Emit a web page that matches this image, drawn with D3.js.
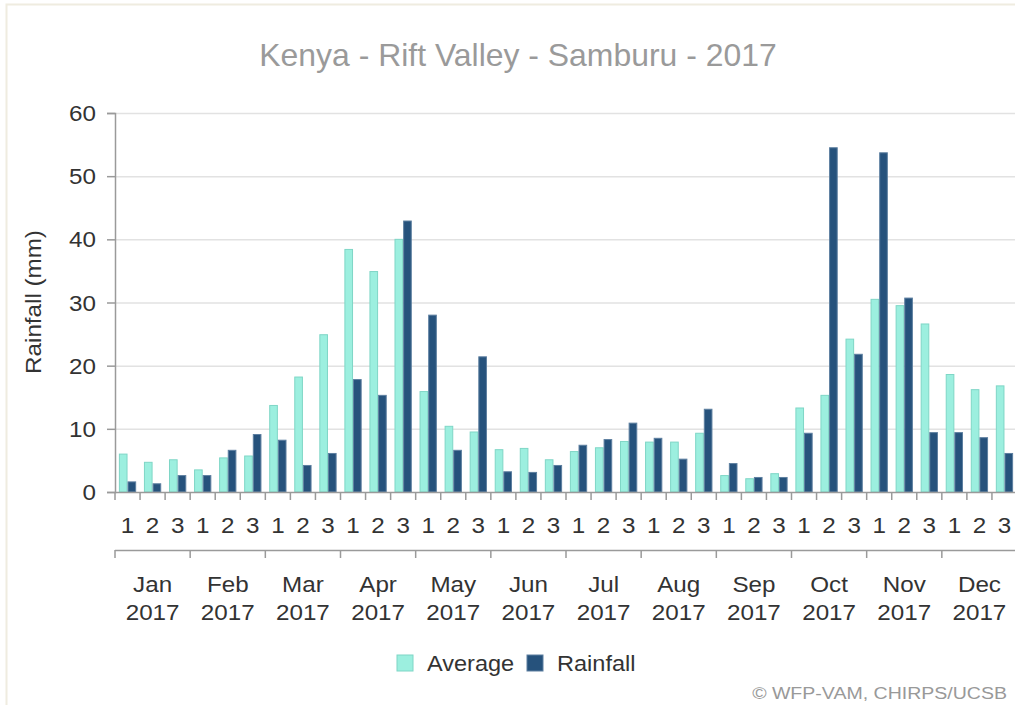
<!DOCTYPE html>
<html>
<head>
<meta charset="utf-8">
<script src="https://cdn.jsdelivr.net/npm/d3@7"></script>
<style>
  body { margin: 0; background: #fff; }
  svg { display: block; font-family: "Liberation Sans", Arial, sans-serif; }
</style>
</head>
<body>
<div id="chart"></div>
<script>
(function() {

  // months and dekads
  var months = ["Jan", "Feb", "Mar", "Apr", "May", "Jun", "Jul", "Aug", "Sep", "Oct", "Nov", "Dec"]
  var dekads = ["1", "2", "3"]
  var year = "2017"

  // values per dekad (mm)
  var average = [6.0, 4.7, 5.1, 3.5, 5.4, 5.7, 13.7, 18.2, 24.9, 38.4, 34.9, 40.0,
                 15.9, 10.4, 9.5, 6.7, 6.9, 5.1, 6.4, 7.0, 8.0, 7.9, 7.9, 9.3,
                 2.6, 2.1, 2.9, 13.3, 15.3, 24.2, 30.5, 29.5, 26.6, 18.6, 16.2, 16.8]
  var rainfall = [1.6, 1.3, 2.6, 2.6, 6.6, 9.1, 8.2, 4.2, 6.1, 17.8, 15.3, 42.9,
                  28.0, 6.6, 21.4, 3.2, 3.1, 4.2, 7.4, 8.3, 10.9, 8.5, 5.2, 13.1,
                  4.5, 2.3, 2.3, 9.3, 54.5, 21.8, 53.7, 30.7, 9.4, 9.4, 8.6, 6.1]
  var yTicks = [0, 10, 20, 30, 40, 50, 60]
  var seriesNames = ["Average", "Rainfall"]
  var colors = {Average: "#9cefdf", Rainfall: "#26527c"}
  var strokes = {Average: "#7fd6c6", Rainfall: "#5d7fa0"}

  var width = 1015, height = 705
  var left = 115, right = 1017, top = 113, bottom = 492
  var sx = 1.1   // text in the picture is a little wide

  var cats = []
  months.forEach(function(m) {
    dekads.forEach(function(d) { cats.push(m + "-" + d) })
  })
  var rows = cats.map(function(c, i) {
    return {cat: c, dek: c.split("-")[1], Average: average[i], Rainfall: rainfall[i]}
  })

  var svg = d3.select("#chart").append("svg")
    .attr("width", width)
    .attr("height", height)

  // put a text at x,y, stretched a bit sideways
  function label(g, tx, ty, str, size, anchor, fill, stretch, rot) {
    return g.append("text")
      .attr("transform", "translate(" + tx + "," + ty + ")" + (rot ? " rotate(" + rot + ")" : "") +
            " scale(" + (stretch || sx) + ",1)")
      .attr("text-anchor", anchor || "middle")
      .attr("font-size", size)
      .attr("fill", fill || "#333")
      .text(str)
  }

  // frame
  svg.append("rect")
    .attr("x", 6.5).attr("y", 4.5)
    .attr("width", 1100).attr("height", 800)
    .attr("fill", "none")
    .attr("stroke", "#efece0")
    .attr("stroke-width", 2)

  var x = d3.scaleBand().domain(cats).range([left, right])
  var xs = d3.scaleBand().domain(seriesNames).range([0, x.bandwidth()]).paddingOuter(0.45)
  var xm = d3.scaleBand().domain(months).range([left, right])
  var y = d3.scaleLinear().domain([0, 60]).range([bottom, top])

  // title
  label(svg, 518, 66, "Kenya - Rift Valley - Samburu - 2017", 31, "middle", "#9a9a9a", 1.03)

  // grid
  svg.append("g")
    .selectAll("line")
    .data(yTicks.slice(1))
    .enter().append("line")
    .attr("x1", left).attr("x2", width)
    .attr("y1", function(d) { return y(d) + 0.5 })
    .attr("y2", function(d) { return y(d) + 0.5 })
    .attr("stroke", "#e2e2e2")
    .attr("stroke-width", 1.5)

  // y axis
  var yAxis = svg.append("g")
    .attr("transform", "translate(" + left + ",0)")
    .call(d3.axisLeft(y).tickValues(yTicks).tickSize(8).tickFormat(""))
  yAxis.select(".domain").attr("stroke", "#9a9a9a").attr("stroke-width", 1.5)
  yAxis.selectAll(".tick line").attr("stroke", "#9a9a9a").attr("stroke-width", 1.5)
  yTicks.forEach(function(t) {
    label(svg, 96, y(t) + 8, String(t), 22, "end")
  })

  label(svg, 41, 302, "Rainfall (mm)", 22, "middle", "#333", sx, -90)

  // bars
  var groups = svg.append("g")
    .selectAll("g")
    .data(rows)
    .enter().append("g")
    .attr("transform", function(d) { return "translate(" + x(d.cat) + ",0)" })

  groups.selectAll("rect")
    .data(function(d) { return seriesNames.map(function(s) { return {s: s, v: d[s]} }) })
    .enter().append("rect")
    .attr("x", function(d) { return xs(d.s) + 0.5 })
    .attr("width", xs.bandwidth() - 1)
    .attr("y", function(d) { return y(d.v) })
    .attr("height", function(d) { return bottom - y(d.v) })
    .attr("fill", function(d) { return colors[d.s] })
    .attr("stroke", function(d) { return strokes[d.s] })
    .attr("stroke-width", 1)

  // dekad axis
  var xAxis = svg.append("g")
    .attr("transform", "translate(0," + bottom + ")")
  xAxis.append("line")
    .attr("x1", left).attr("x2", width)
    .attr("y1", 0.5).attr("y2", 0.5)
    .attr("stroke", "#9a9a9a").attr("stroke-width", 1.5)
  xAxis.selectAll("line.tk")
    .data(cats)
    .enter().append("line")
    .attr("class", "tk")
    .attr("x1", function(d) { return x(d) }).attr("x2", function(d) { return x(d) })
    .attr("y1", 0).attr("y2", 8)
    .attr("stroke", "#9a9a9a").attr("stroke-width", 1.5)
  rows.forEach(function(d) {
    label(svg, x(d.cat) + x.bandwidth() / 2, 533, d.dek, 22)
  })

  // month axis
  var mAxis = svg.append("g")
    .attr("transform", "translate(0,550)")
  mAxis.append("line")
    .attr("x1", left).attr("x2", width)
    .attr("y1", 0.5).attr("y2", 0.5)
    .attr("stroke", "#9a9a9a").attr("stroke-width", 1.5)
  mAxis.selectAll("line.tk")
    .data(months)
    .enter().append("line")
    .attr("class", "tk")
    .attr("x1", function(d) { return xm(d) }).attr("x2", function(d) { return xm(d) })
    .attr("y1", 0).attr("y2", 8)
    .attr("stroke", "#9a9a9a").attr("stroke-width", 1.5)
  months.forEach(function(m) {
    var cx = xm(m) + xm.bandwidth() / 2
    label(svg, cx, 592, m, 22)
    label(svg, cx, 620, year, 22)
  })

  // legend
  var legend = svg.append("g")
  var lx = [397, 527]
  seriesNames.forEach(function(s, i) {
    legend.append("rect")
      .attr("x", lx[i]).attr("y", 655)
      .attr("width", 16).attr("height", 16)
      .attr("fill", colors[s])
      .attr("stroke", strokes[s])
    label(legend, lx[i] + 30, 671, s, 22, "start", "#333", 1.07)
  })

  // credits
  label(svg, 1007, 699, "\u00a9 WFP-VAM, CHIRPS/UCSB", 17, "end", "#999", 1.15)

})()
</script>
</body>
</html>
